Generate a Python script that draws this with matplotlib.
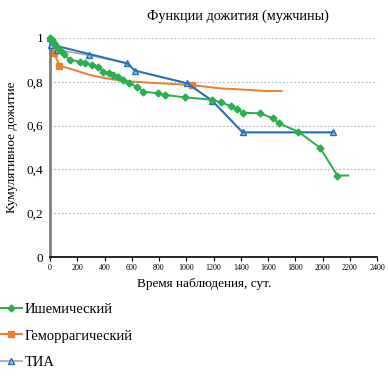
import matplotlib
matplotlib.use('Agg')
import matplotlib.pyplot as plt
import numpy as np

plt.rcParams['font.family'] = ['Liberation Serif', 'DejaVu Serif']

# ---- data
isch_x = [0, 12, 30, 50, 73, 100, 147, 220, 260, 306, 355, 391, 430, 465, 501, 538,
          580, 636, 685, 795, 844, 991, 1190, 1255, 1326, 1370, 1419, 1541, 1639,
          1681, 1823, 1982, 2109, 2190]
isch_y = [1.0, 0.99, 0.975, 0.96, 0.945, 0.925, 0.90, 0.892, 0.885, 0.877, 0.869,
          0.846, 0.84, 0.831, 0.823, 0.808, 0.795, 0.778, 0.755, 0.747, 0.74, 0.729,
          0.718, 0.706, 0.689, 0.674, 0.659, 0.656, 0.633, 0.61, 0.572, 0.499,
          0.372, 0.372]

hem_x = [0, 10, 20, 29, 30, 62, 66, 100, 171, 294, 400, 538, 700, 905, 1040, 1248,
         1345, 1590, 1700]
hem_y = [1.0, 0.97, 0.95, 0.93, 0.93, 0.885, 0.87, 0.868, 0.855, 0.831, 0.817, 0.804,
         0.797, 0.79, 0.785, 0.77, 0.767, 0.758, 0.758]
hem_marks = [3, 6, 14]

tia_x = [0, 10, 54, 286, 568, 624, 1008, 1190, 1414, 2075]
tia_y = [1.0, 0.968, 0.945, 0.922, 0.884, 0.851, 0.793, 0.714, 0.569, 0.569]
tia_top_x = [0, 54, 568, 624, 1008, 1190, 1414, 2075]
tia_top_y = [1.0, 0.963, 0.884, 0.851, 0.793, 0.714, 0.569, 0.569]

xticks = list(range(0, 2401, 200))
yticks = [0, 0.2, 0.4, 0.6, 0.8, 1.0]
ylabels = ['0', '0,2', '0,4', '0,6', '0,8', '1']

green = '#2BAE4E'
orange = '#EE7D31'
blue = '#2271B8'
gray = '#A5A5A5'

fig = plt.figure(figsize=(3.88, 3.76), dpi=100)
ax = fig.add_axes([50/388, 1 - 257/376, 327/388, 219/376])

ax.plot(tia_x, tia_y, color=gray, lw=1.2, marker='^', ms=4.5, mfc='#9DC3E6',
        mec=blue, mew=1.0, label='ТИА', clip_on=False, zorder=3)
ax.plot(tia_top_x, tia_top_y, color=blue, lw=1.4, clip_on=False, zorder=3)
ax.plot(hem_x, hem_y, color=orange, lw=1.4, marker='s', ms=4, markevery=hem_marks,
        label='Геморрагический', clip_on=False, zorder=2)
ax.plot(isch_x, isch_y, color=green, lw=1.4, marker='D', ms=3.5,
        markevery=list(range(len(isch_x) - 1)), label='Ишемический',
        clip_on=False, zorder=4)

ax.set_xlim(0, 2400)
ax.set_ylim(0, 1)
ax.set_xticks(xticks)
ax.set_xticklabels([str(v) for v in xticks], fontsize=5.8)
ax.set_yticks(yticks)
ax.set_yticklabels(ylabels, fontsize=9.5)
ax.tick_params(axis='x', direction='out', length=3, width=0.8, pad=2)
ax.tick_params(axis='y', length=0, pad=5)
ax.yaxis.grid(True, ls=(0, (1.5, 1.5)), color='#BFBFBF', lw=0.9)
for s in ['top', 'right']:
    ax.spines[s].set_visible(False)
ax.spines['left'].set_color('#808080')
ax.spines['left'].set_linewidth(2)
ax.spines['bottom'].set_linewidth(1.2)

ax.set_xlabel('Время наблюдения, сут.', fontsize=9.5)
ax.xaxis.set_label_coords(0.472, -0.097)
ax.set_ylabel('Кумулятивное дожитие', fontsize=9.5)
ax.yaxis.set_label_coords(-0.098, 0.5)
fig.text(238/388, 1 - 16/376, 'Функции дожития (мужчины)', fontsize=10.3,
         ha='center', va='center')

h, l = ax.get_legend_handles_labels()
order = [2, 1, 0]
fig.legend([h[i] for i in order], [l[i] for i in order], loc='upper left',
           bbox_to_anchor=(0, 1 - 303/376), frameon=False, fontsize=10.5,
           borderpad=0, borderaxespad=0, labelspacing=0.9, handlelength=1.5,
           handletextpad=0.2)

fig.savefig('out.png', dpi=100)
